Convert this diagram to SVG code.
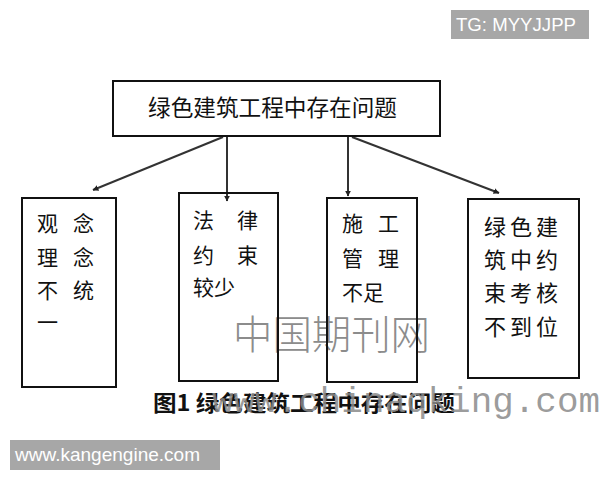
<svg xmlns="http://www.w3.org/2000/svg" width="600" height="480" viewBox="0 0 600 480">
<defs>
<marker id="ah" viewBox="0 0 10 10" refX="9" refY="5" markerWidth="6" markerHeight="6" markerUnits="userSpaceOnUse" orient="auto">
<path d="M0,0 L10,5 L0,10 z" fill="#222"/>
</marker>
<style>
.box{fill:#fff;stroke:#111;stroke-width:2}
.cn{font-family:"Noto Sans CJK SC","Noto Sans",sans-serif;fill:#111}
.edge{stroke:#333;stroke-width:2;fill:none;marker-end:url(#ah)}
.tag{fill:#a7a7a7}
.tagt{font-family:"Liberation Sans",Arial,sans-serif;fill:#fff;font-size:18.5px}
</style>
</defs>
<rect width="600" height="480" fill="#fff"/>
<g id="watermark-cn">
<text x="233" y="349" class="cn" style="fill:#8c8c8c;font-weight:300" font-size="40" textLength="197" lengthAdjust="spacingAndGlyphs">中国期刊网</text>
</g>
<g id="connectors">
<line class="edge" x1="223" y1="137" x2="93" y2="190"/>
<line class="edge" x1="227" y1="137" x2="227" y2="201"/>
<line class="edge" x1="348" y1="137" x2="348" y2="196"/>
<line class="edge" x1="352" y1="137" x2="499" y2="193"/>
</g>
<g id="root">
<rect class="box" x="113" y="81" width="327" height="55"/>
<text class="cn" x="148" y="116" font-size="22.5" textLength="249" lengthAdjust="spacingAndGlyphs">绿色建筑工程中存在问题</text>
</g>
<g id="n1">
<rect class="box" x="22" y="198" width="94" height="189" style="fill:none"/>
<g class="cn" font-size="21">
<text x="37" y="231">观</text><text x="73" y="231">念</text>
<text x="37" y="265">理</text><text x="73" y="265">念</text>
<text x="37" y="298">不</text><text x="73" y="298">统</text>
<text x="37" y="330">一</text>
</g>
</g>
<g id="n2">
<rect class="box" x="179" y="193" width="99" height="188" style="fill:none"/>
<g class="cn" font-size="21">
<text x="193" y="228">法</text><text x="237" y="228">律</text>
<text x="193" y="263">约</text><text x="237" y="263">束</text>
<text x="193" y="295">较少</text>
</g>
</g>
<g id="n3">
<rect class="box" x="327" y="198" width="90" height="184" style="fill:none"/>
<g class="cn" font-size="21">
<text x="342" y="231">施</text><text x="378" y="231">工</text>
<text x="342" y="266">管</text><text x="378" y="266">理</text>
<text x="342" y="300">不足</text>
</g>
</g>
<g id="n4">
<rect class="box" x="468" y="199" width="111" height="179" style="fill:none"/>
<g class="cn" font-size="22" letter-spacing="4">
<text x="484" y="235">绿色建</text>
<text x="484" y="268">筑中约</text>
<text x="484" y="301">束考核</text>
<text x="484" y="335">不到位</text>
</g>
</g>
<g id="caption">
<text class="cn" x="153" y="411" font-size="22" font-weight="bold" textLength="302" lengthAdjust="spacingAndGlyphs">图1 绿色建筑工程中存在问题</text>
</g>
<g id="watermark-url">
<text x="212" y="412" font-family="'Liberation Mono','DejaVu Sans Mono',monospace" font-size="35" fill="#8a8a8a" fill-opacity="0.85" textLength="388" lengthAdjust="spacingAndGlyphs">www.chinaqking.com</text>
</g>
<g id="tag-tg">
<rect class="tag" x="451" y="10" width="138" height="29"/>
<text class="tagt" x="456" y="31" textLength="120" lengthAdjust="spacingAndGlyphs">TG: MYYJJPP</text>
</g>
<g id="tag-site">
<rect class="tag" x="10" y="440" width="210" height="30"/>
<text class="tagt" x="15" y="461" textLength="185" lengthAdjust="spacingAndGlyphs">www.kangengine.com</text>
</g>
</svg>
